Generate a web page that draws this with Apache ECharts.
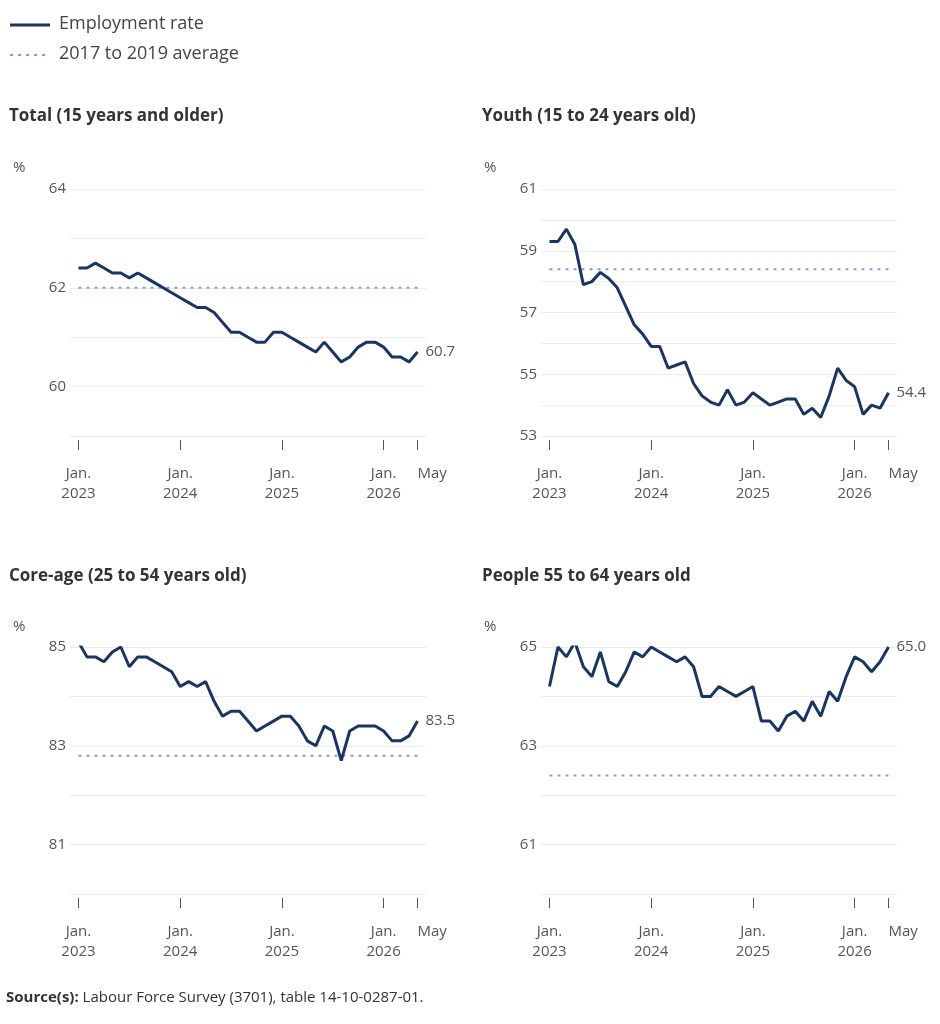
<!DOCTYPE html>
<html>
<head>
<meta charset="utf-8">
<script src="https://cdn.jsdelivr.net/npm/echarts@6/dist/echarts.min.js"></script>
<style>
html,body{margin:0;padding:0;background:#fff}
#chart{width:940px;height:1024px}
</style>
</head>
<body>
<div id="chart"></div>
<script>
// monthly, Jan. 2023 to May 2026
var total = [62.4,62.4,62.5,62.4,62.3,62.3,62.2,62.3,62.2,62.1,62.0,61.9,
    61.8,61.7,61.6,61.6,61.5,61.3,61.1,61.1,61.0,60.9,60.9,61.1,
    61.1,61.0,60.9,60.8,60.7,60.9,60.7,60.5,60.6,60.8,60.9,60.9,
    60.8,60.6,60.6,60.5,60.7];
var youth = [59.3,59.3,59.7,59.2,57.9,58.0,58.3,58.1,57.8,57.2,56.6,56.3,
    55.9,55.9,55.2,55.3,55.4,54.7,54.3,54.1,54.0,54.5,54.0,54.1,
    54.4,54.2,54.0,54.1,54.2,54.2,53.7,53.9,53.6,54.3,55.2,54.8,
    54.6,53.7,54.0,53.9,54.4];
var coreAge = [85.1,84.8,84.8,84.7,84.9,85.0,84.6,84.8,84.8,84.7,84.6,84.5,
    84.2,84.3,84.2,84.3,83.9,83.6,83.7,83.7,83.5,83.3,83.4,83.5,
    83.6,83.6,83.4,83.1,83.0,83.4,83.3,82.7,83.3,83.4,83.4,83.4,
    83.3,83.1,83.1,83.2,83.5];
var older = [64.2,65.0,64.8,65.1,64.6,64.4,64.9,64.3,64.2,64.5,64.9,64.8,
    65.0,64.9,64.8,64.7,64.8,64.6,64.0,64.0,64.2,64.1,64.0,64.1,
    64.2,63.5,63.5,63.3,63.6,63.7,63.5,63.9,63.6,64.1,63.9,64.4,
    64.8,64.7,64.5,64.7,65.0];
var averages = [62.0, 58.4, 82.8, 62.4];
var yearTicks = [0, 12, 24, 36];
var yearLabels = ['Jan.\n2023', 'Jan.\n2024', 'Jan.\n2025', 'Jan.\n2026'];
var lastTick = [40];
var lastLabel = 'May';

var panels = [
    {title: 'Total (15 years and older)', data: total, min: 59, max: 64, labels: [60, 62, 64]},
    {title: 'Youth (15 to 24 years old)', data: youth, min: 53, max: 61, labels: [53, 55, 57, 59, 61]},
    {title: 'Core-age (25 to 54 years old)', data: coreAge, min: 80, max: 85, labels: [81, 83, 85]},
    {title: 'People 55 to 64 years old', data: older, min: 60, max: 65, labels: [61, 63, 65]}
];
var font = '"Open Sans", "Noto Sans", sans-serif';
var lineColor = '#1b3563';
var avgColor = '#7d9ee0';

function xAxis(i, ticks, fmt, align) {
    return {
        type: 'value', gridIndex: i, min: -1, max: 41, position: 'bottom', offset: 4,
        splitLine: {show: false}, axisLine: {show: false},
        axisTick: {show: true, customValues: ticks, length: 10, lineStyle: {color: '#555'}},
        axisLabel: {customValues: ticks, color: '#555', fontSize: 15, fontFamily: font, lineHeight: 20, margin: 24,
            align: align, formatter: fmt}
    };
}

var grids = [], xAxes = [], extraX = [], yAxes = [], series = [], graphics = [];
panels.forEach(function (p, i) {
    var col = i % 2, row = Math.floor(i / 2);
    var left = col ? 541 : 70;
    var top = row ? 647 : 189;
    grids.push({left: left, top: top, width: 356, height: 247});
    xAxes.push(xAxis(i, yearTicks, function (v) { return yearLabels[yearTicks.indexOf(v)]; }, 'center'));
    extraX.push(xAxis(i, lastTick, function () { return lastLabel; }, 'left'));
    yAxes.push({
        type: 'value', gridIndex: i, min: p.min, max: p.max, interval: 1,
        splitLine: {lineStyle: {color: '#ececec'}},
        axisLine: {show: false}, axisTick: {show: false},
        axisLabel: {color: '#555', fontSize: 15, fontFamily: font, margin: 4,
            formatter: function (v) { return p.labels.indexOf(v) >= 0 ? String(v) : ''; }}
    });
    series.push({
        name: 'Employment rate', type: 'line', xAxisIndex: i, yAxisIndex: i,
        data: p.data.map(function (v, k) { return [k, v]; }),
        symbol: 'none', lineStyle: {color: lineColor, width: 3}, itemStyle: {color: lineColor},
        endLabel: {show: true, color: '#555', fontSize: 15, fontFamily: font, distance: 8,
            formatter: function (d) { return d.value[1].toFixed(1); }}
    });
    series.push({
        name: '2017 to 2019 average', type: 'line', xAxisIndex: i, yAxisIndex: i,
        data: p.data.map(function (v, k) { return [k, averages[i]]; }),
        symbol: 'none', lineStyle: {color: avgColor, width: 2, type: [3, 5]}, itemStyle: {color: avgColor}, z: 1
    });
    graphics.push({type: 'text', left: col ? 482 : 9, top: row ? 568 : 108,
        style: {text: p.title, fill: '#333', font: 'bold 17px ' + font}});
    graphics.push({type: 'text', left: col ? 484 : 13, top: row ? 619 : 160,
        style: {text: '%', fill: '#555', font: '15px ' + font}});
});

graphics.push({type: 'line', shape: {x1: 10, y1: 25, x2: 50, y2: 25}, style: {stroke: lineColor, lineWidth: 3}});
graphics.push({type: 'text', left: 59, top: 15, style: {text: 'Employment rate', fill: '#444', font: '18px ' + font}});
graphics.push({type: 'line', shape: {x1: 10, y1: 55, x2: 50, y2: 55}, style: {stroke: avgColor, lineWidth: 2, lineDash: [3, 5]}});
graphics.push({type: 'text', left: 59, top: 45, style: {text: '2017 to 2019 average', fill: '#444', font: '18px ' + font}});
graphics.push({type: 'text', left: 6, top: 990, style: {
    text: '{b|Source(s):} Labour Force Survey (3701), table 14-10-0287-01.',
    rich: {b: {fontWeight: 'bold', fontSize: 15, fontFamily: font, fill: '#333'}},
    fill: '#333', font: '15px ' + font}});

var chart = echarts.init(document.getElementById('chart'));
chart.setOption({
    animation: false,
    grid: grids, xAxis: xAxes.concat(extraX), yAxis: yAxes, series: series, graphic: graphics
});
</script>
</body>
</html>
